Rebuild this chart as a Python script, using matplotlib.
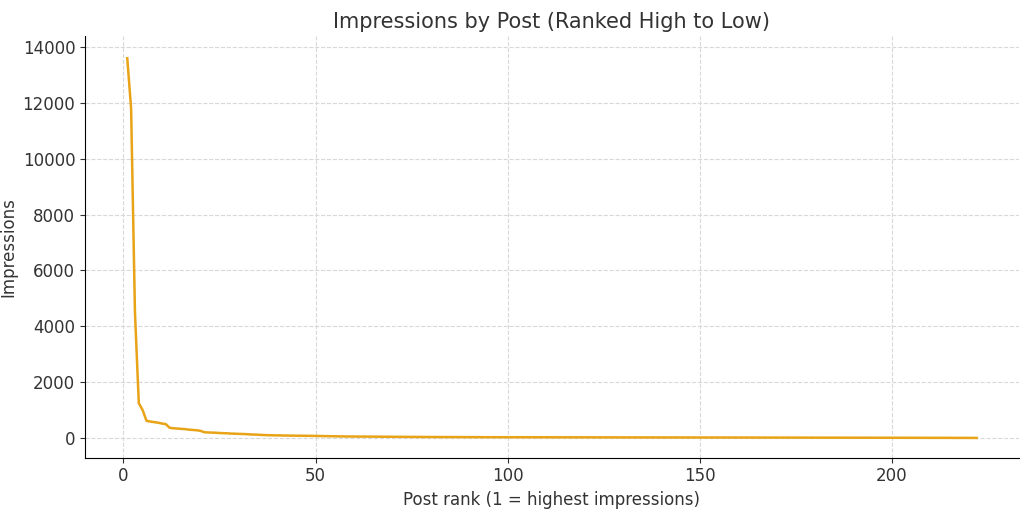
import matplotlib
matplotlib.use("Agg")
import matplotlib.pyplot as plt

# impressions per post, sorted high to low
top_posts = [13600, 11800, 4500, 1250, 1000, 620, 590, 570, 550, 520, 500,
             370, 350, 340, 330, 320, 300, 290, 280, 260,
             210, 200, 195, 190, 180, 175, 170, 160, 155, 150, 145, 140, 130, 125, 120,
             110, 105, 100, 98, 95, 93, 90, 88, 86, 85, 83, 82, 80, 78, 76]
mid_posts = [72, 70, 68, 65, 63, 60, 58, 56, 55, 53, 52, 50, 49, 48, 47, 46, 45, 44, 43, 42,
             41, 41, 40, 40, 39, 39, 38, 38, 37, 37, 36, 36, 35, 35, 34, 34, 33, 33, 33, 32,
             32, 32, 31, 31, 31, 30, 30, 30, 30, 30]
tail_posts = [30, 30, 29, 29, 29, 29, 28, 28, 28, 28, 27, 27, 27, 27, 26, 26, 26, 26, 25, 25,
              25, 25, 25, 24, 24, 24, 24, 24, 23, 23, 23, 23, 23, 22, 22, 22, 22, 22, 21, 21,
              21, 21, 21, 21, 20, 20, 20, 20, 20, 20,
              20, 20, 19, 19, 19, 19, 19, 18, 18, 18, 18, 18, 17, 17, 17, 17, 17, 16, 16, 16,
              16, 16, 15, 15, 15, 15, 15, 14, 14, 14, 14, 14, 13, 13, 13, 13, 13, 12, 12, 12,
              12, 12, 11, 11, 11, 11, 11, 10, 10, 10,
              10, 10, 10, 9, 9, 9, 9, 8, 8, 8, 8, 7, 7, 7, 7, 6, 6, 6, 5, 5, 5, 4]
impressions = top_posts + mid_posts + tail_posts
ranks = list(range(1, len(impressions) + 1))

fig, ax = plt.subplots(figsize=(10.24, 5.13), dpi=100)
ax.plot(ranks, impressions, color="#E8A317", lw=1.8)
ax.set_title("Impressions by Post (Ranked High to Low)", fontsize=15, color="#333333")
ax.set_xlabel("Post rank (1 = highest impressions)", fontsize=12, color="#333333")
ax.set_ylabel("Impressions", fontsize=12, color="#333333")
ax.set_xlim(-10, 233)
ax.set_ylim(-700, 14400)
ax.set_xticks([0, 50, 100, 150, 200])
ax.set_yticks(range(0, 14001, 2000))
ax.tick_params(labelsize=12, colors="#333333")
ax.grid(True, ls="--", color="#d8d8d8", lw=0.8)
for s in ("top", "right"):
    ax.spines[s].set_visible(False)
fig.subplots_adjust(left=0.083, right=0.995, top=0.93, bottom=0.108)
fig.savefig("out.png")
